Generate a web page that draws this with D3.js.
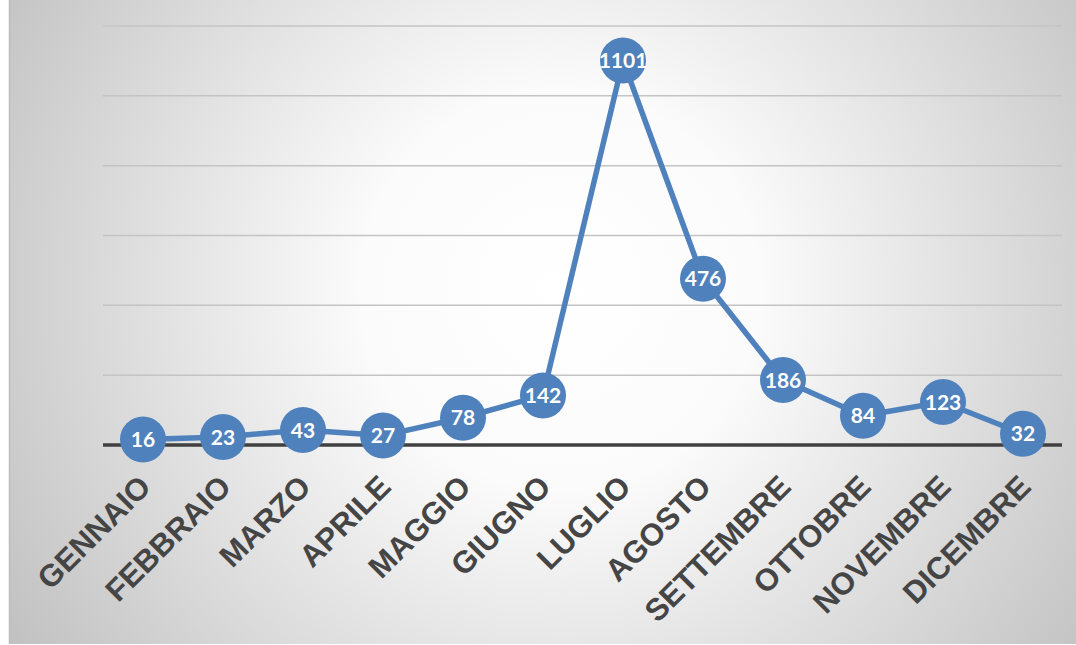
<!DOCTYPE html>
<html>
<head>
<meta charset="utf-8">
<script src="https://cdn.jsdelivr.net/npm/d3@7"></script>
<style>
  html, body { margin: 0; padding: 0; background: #fff; }
  svg { display: block; }
</style>
</head>
<body>
<svg id="chart" width="1076" height="645"></svg>
<script>
const months = ["GENNAIO", "FEBBRAIO", "MARZO", "APRILE", "MAGGIO", "GIUGNO",
                "LUGLIO", "AGOSTO", "SETTEMBRE", "OTTOBRE", "NOVEMBRE", "DICEMBRE"];
const values = [16, 23, 43, 27, 78, 142, 1101, 476, 186, 84, 123, 32];
const gridTicks = [200, 400, 600, 800, 1000, 1200];

const width = 1076, height = 645;
const svg = d3.select("#chart");

// background with radial gradient
const defs = svg.append("defs");
const grad = defs.append("radialGradient")
    .attr("id", "bg")
    .attr("gradientUnits", "userSpaceOnUse")
    .attr("cx", 560).attr("cy", 290).attr("r", 660);
grad.append("stop").attr("offset", "0%").attr("stop-color", "#ffffff");
grad.append("stop").attr("offset", "30%").attr("stop-color", "#fbfbfb");
grad.append("stop").attr("offset", "100%").attr("stop-color", "#c0c0c0");

svg.append("rect")
    .attr("x", 9).attr("y", 0)
    .attr("width", width - 9).attr("height", height - 1)
    .attr("fill", "url(#bg)");
svg.append("line")
    .attr("x1", 9.5).attr("x2", 9.5).attr("y1", 0).attr("y2", height - 1)
    .attr("stroke", "#bdbdbd").attr("stroke-width", 1.5);

const x = d3.scalePoint()
    .domain(months)
    .range([103, 1063])
    .padding(0.5);

const y = d3.scaleLinear()
    .domain([0, 1200])
    .range([445, 26]);

// gridlines
svg.append("g")
    .attr("class", "grid")
  .selectAll("line")
  .data(gridTicks)
  .enter().append("line")
    .attr("x1", 103).attr("x2", 1062)
    .attr("y1", (d) => y(d)).attr("y2", (d) => y(d))
    .attr("stroke", "#c4c4c4")
    .attr("stroke-width", 1.5);

// baseline
svg.append("line")
    .attr("x1", 103).attr("x2", 1062)
    .attr("y1", y(0)).attr("y2", y(0))
    .attr("stroke", "#404040")
    .attr("stroke-width", 3.5);

// category labels
svg.append("g")
    .attr("class", "x-labels")
  .selectAll("text")
  .data(months)
  .enter().append("text")
    .attr("transform", (d) => `translate(${x(d) + 2},${481}) rotate(-45)`)
    .attr("text-anchor", "end")
    .attr("dy", "0.35em")
    .attr("font-family", "'Liberation Sans', Arial, sans-serif")
    .attr("font-weight", "bold")
    .attr("font-size", 31)
    .attr("fill", "#454545")
    .text((d) => d);

// line
const line = d3.line()
    .x((d, i) => x(months[i]))
    .y((d) => y(d));

svg.append("path")
    .datum(values)
    .attr("fill", "none")
    .attr("stroke", "#4f81bd")
    .attr("stroke-width", 5.5)
    .attr("stroke-linejoin", "round")
    .attr("d", line);

// markers
const points = svg.append("g")
    .attr("class", "points")
  .selectAll("g")
  .data(values)
  .enter().append("g")
    .attr("transform", (d, i) => `translate(${x(months[i])},${y(d)})`);

points.append("circle")
    .attr("r", 23)
    .attr("fill", "#4f81bd");

points.append("text")
    .attr("text-anchor", "middle")
    .attr("dy", "0.36em")
    .attr("font-family", "Lato, 'Open Sans', sans-serif")
    .attr("font-weight", "bold")
    .attr("font-size", 21)
    .attr("fill", "#ffffff")
    .text((d) => d);
</script>
</body>
</html>
